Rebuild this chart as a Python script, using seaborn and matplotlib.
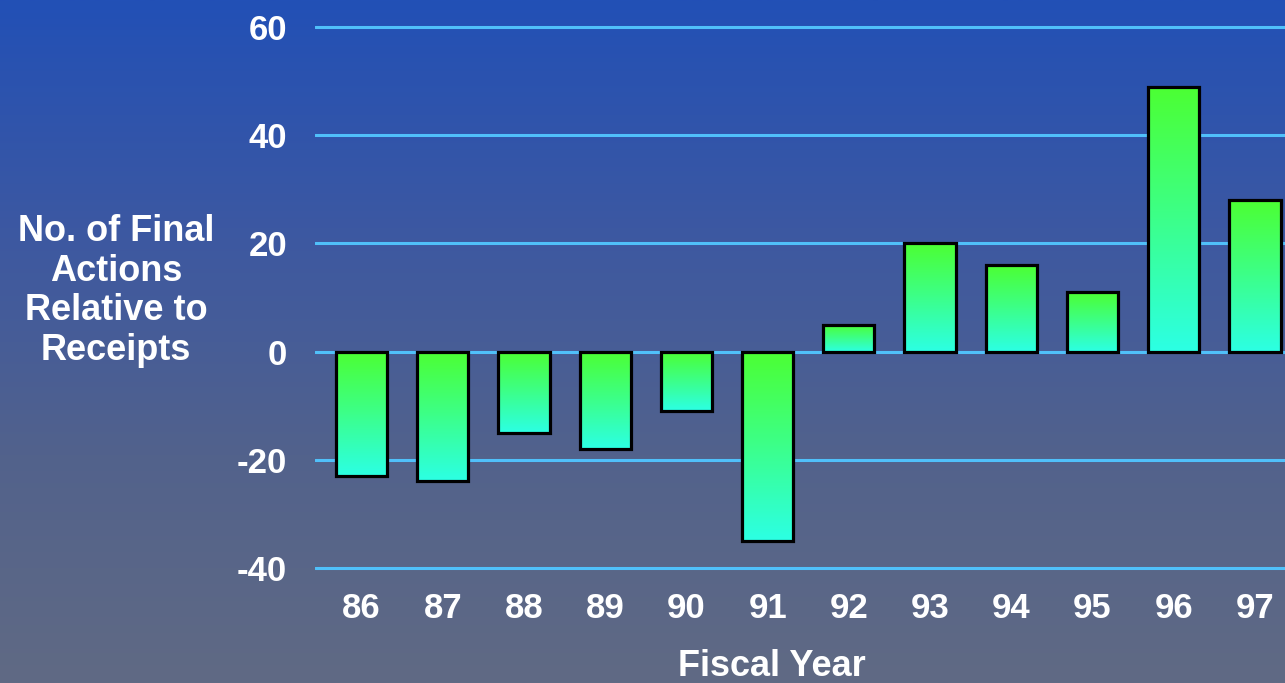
import numpy as np
import matplotlib
matplotlib.use("Agg")
import matplotlib.pyplot as plt
import seaborn as sns
import pandas as pd
from matplotlib.colors import LinearSegmentedColormap

years = ["86", "87", "88", "89", "90", "91", "92", "93", "94", "95", "96", "97"]
net_actions = [-23, -24, -15, -18, -11, -35, 5, 20, 16, 11, 49, 28]
y_ticks = [-40, -20, 0, 20, 40, 60]

sns.set_style("white")
plt.rcParams['font.family'] = ['Liberation Sans', 'DejaVu Sans']
plt.rcParams['font.weight'] = 'bold'
plt.rcParams['axes.unicode_minus'] = False

fig = plt.figure(figsize=(12.85, 6.83), dpi=100)

# background gradient, blue on top to grey-blue at the bottom
bg = fig.add_axes([0, 0, 1, 1], zorder=-10)
bg_cmap = LinearSegmentedColormap.from_list("bg", ["#606a84", "#52628c", "#3c58a2", "#2250b6"])
bg.imshow(np.linspace(0, 1, 256).reshape(-1, 1), cmap=bg_cmap, aspect="auto",
          extent=[0, 1, 0, 1], origin="lower")
bg.axis("off")

ax = fig.add_axes([315 / 1285, 1 - 570.7 / 683, 1 - 315 / 1285, (570.7 - 24.3) / 683])
ax.patch.set_alpha(0)

df = pd.DataFrame({"year": years, "value": net_actions})
sns.barplot(data=df, x="year", y="value", ax=ax, width=0.63,
            facecolor="none", edgecolor="black", linewidth=2.3, zorder=3)

# fill each bar with green (top) -> cyan (bottom) gradient
bar_cmap = LinearSegmentedColormap.from_list("bar", ["#2cffe4", "#3cff8a", "#4cff33"])
grad = np.linspace(0, 1, 128).reshape(-1, 1)
for p in ax.patches:
    x0, y0 = p.get_x(), p.get_y()
    w, h = p.get_width(), p.get_height()
    lo, hi = min(y0, y0 + h), max(y0, y0 + h)
    im = ax.imshow(grad, cmap=bar_cmap, aspect="auto", origin="lower",
                   extent=[x0, x0 + w, lo, hi], zorder=2)
    im.set_clip_path(p)

ax.set_xlim(-0.573, 11.37)
ax.set_ylim(-40.5, 60.5)
ax.set_yticks(y_ticks)
ax.yaxis.grid(True, color="#50c0fa", linewidth=2.2, zorder=0)
ax.set_axisbelow(True)
for s in ax.spines.values():
    s.set_visible(False)
ax.tick_params(axis="both", length=0, labelsize=25, labelcolor="white")
ax.tick_params(axis="y", pad=20)
ax.tick_params(axis="x", pad=15)
for lab in ax.get_xticklabels() + ax.get_yticklabels():
    lab.set_fontweight("bold")
ax.set_xlabel("")
ax.set_ylabel("")

fig.text(116 / 1285, 1 - 291 / 683, "No. of Final\nActions\nRelative to\nReceipts",
         ha="center", va="center", multialignment="center", color="white",
         fontsize=26, fontweight="bold", linespacing=1.17)
fig.text(772 / 1285, 1 - 666 / 683, "Fiscal Year", ha="center", va="center",
         color="white", fontsize=26, fontweight="bold")

fig.savefig("out.png", dpi=100)
